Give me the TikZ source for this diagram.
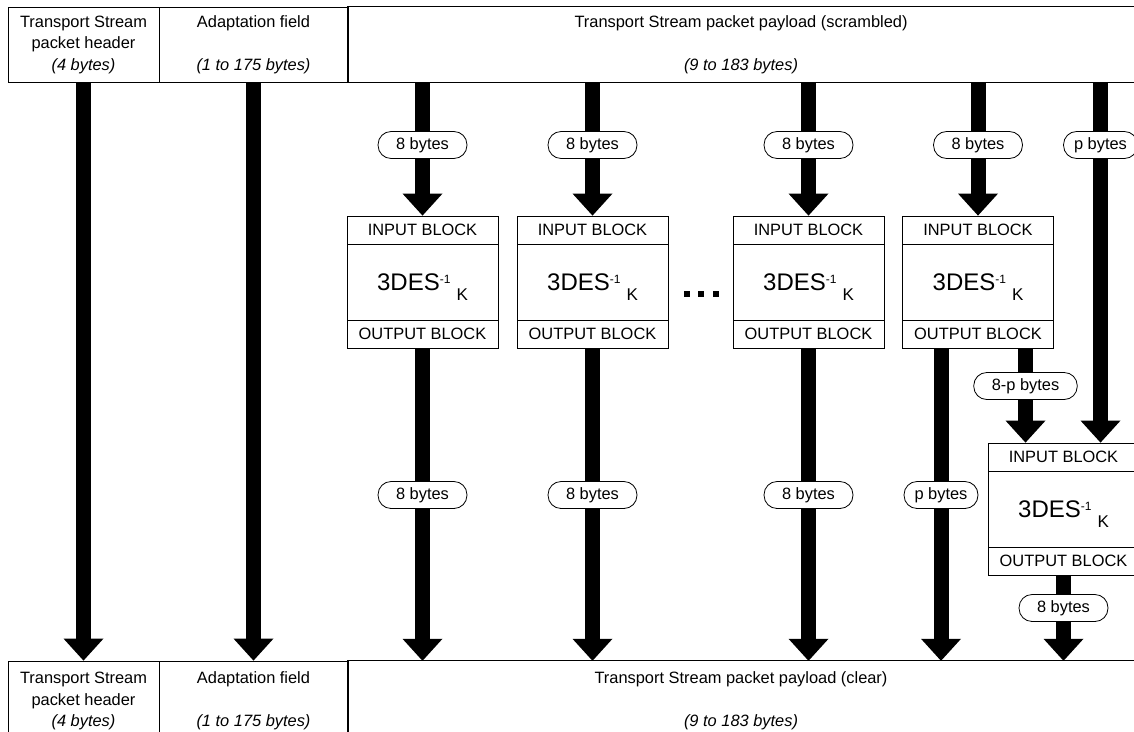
\documentclass[tikz,border=0pt]{standalone}
\usepackage{fontspec}
\setmainfont{Liberation Sans}
\usetikzlibrary{arrows.meta}
\newcommand\desname{{\fontsize{24}{24}\selectfont 3DES}\raisebox{7pt}[0pt][0pt]{\fontsize{12}{12}\selectfont -1}\hspace{6pt}\raisebox{-10pt}[0pt][0pt]{\fontsize{17}{17}\selectfont K}}
\newcommand\desbox[2]{%
  \node[desmain] (#1) at (#2) {\desname};
  \node[despart, anchor=north] (#1-in) at (#1.north) {INPUT BLOCK};
  \node[despart, anchor=south] (#1-out) at (#1.south) {OUTPUT BLOCK};
}
\tikzset{
  base/.style={font=\fontsize{16.4}{21.5}\selectfont},
  cell/.style={base, draw, line width=0.8pt, align=center, inner sep=0pt, minimum height=75pt},
  opencell/.style={base, align=center, inner sep=0pt, minimum height=75pt},
  desmain/.style={base, draw, line width=0.8pt, fill=white, inner sep=0pt, minimum width=151pt, minimum height=132pt},
  despart/.style={base, draw, line width=0.8pt, inner sep=0pt, minimum width=151pt, minimum height=28pt},
  pill/.style={base, draw, line width=0.8pt, fill=white, rounded corners=13pt, minimum height=27pt, inner xsep=18pt, inner ysep=0pt},
  pillp/.style={pill, inner xsep=10.5pt},
  shaft/.style={line width=15pt},
  arr/.style={line width=15pt, -{Triangle[width=40pt,length=22pt,line width=0pt]}},
}
\begin{document}
\begin{tikzpicture}[x=1pt,y=-1pt]
\useasboundingbox (0,0) rectangle (1134,731);
% top row
\node[cell, minimum width=151pt] (hdr1) at (83.5,44.5) {Transport Stream\\packet header\\\textit{(4 bytes)}};
\node[cell, minimum width=189pt] (hdr2) at (253.5,44.5) {Adaptation field\\\strut\\\textit{(1 to 175 bytes)}};
\node[opencell, minimum width=786pt] (hdrP) at (741,44.5) {Transport Stream packet payload (scrambled)\\\strut\\\textit{(9 to 183 bytes)}};
\draw[line width=0.8pt] (hdrP.north east) -- (hdrP.north west) -- (hdrP.south west) -- (hdrP.south east);
% bottom row
\node[cell, minimum width=151pt, minimum height=80pt] (bot1) at (83.5,701) {Transport Stream\\packet header\\\textit{(4 bytes)}};
\node[cell, minimum width=189pt, minimum height=80pt] (bot2) at (253.5,701) {Adaptation field\\\strut\\\textit{(1 to 175 bytes)}};
\node[opencell, minimum width=786pt, minimum height=80pt] (botP) at (741,701) {Transport Stream packet payload (clear)\\\strut\\\textit{(9 to 183 bytes)}};
\draw[line width=0.8pt] (botP.south west) -- (botP.north west) -- (botP.north east);
% header and adaptation field pass straight through
\draw[arr] (hdr1.south) -- (bot1.north);
\draw[arr] (hdr2.south) -- (bot2.north);
% blocks
\desbox{b1}{422.5,282}
\desbox{b2}{592.5,282}
\desbox{b3}{808.5,282}
\desbox{b4}{978,282}
\desbox{b5}{1063.5,509}
% ellipsis
\fill (684,291) rectangle (690,297);
\fill (698,291) rectangle (704,297);
\fill (713,291) rectangle (719,297);
% top labels
\node[pill] (t1) at (422.5,145) {8 bytes};
\node[pill] (t2) at (592.5,145) {8 bytes};
\node[pill] (t3) at (808.5,145) {8 bytes};
\node[pill] (t4) at (978,145) {8 bytes};
\node[pillp] (tp) at (1100.5,145) {p bytes};
% bottom labels
\node[pill] (o1) at (422.5,495) {8 bytes};
\node[pill] (o2) at (592.5,495) {8 bytes};
\node[pill] (o3) at (808.5,495) {8 bytes};
\node[pillp] (op) at (941,495) {p bytes};
\node[pill] (o8p) at (1025.5,386) {8-p bytes};
\node[pill] (o5) at (1063.5,608) {8 bytes};
% input connectors
\foreach \l/\b in {t1/b1, t2/b2, t3/b3, t4/b4}{
  \draw[shaft] (\l |- hdrP.south) -- (\l.north);
  \draw[arr] (\l.south) -- (\b-in.north);
}
\draw[shaft] (tp |- hdrP.south) -- (tp.north);
\draw[arr] (tp.south) -- (tp |- b5-in.north);
% output connectors
\foreach \b/\l in {b1/o1, b2/o2, b3/o3}{
  \draw[shaft] (\b-out.south) -- (\l.north);
  \draw[arr] (\l.south) -- (\l |- botP.north);
}
\draw[shaft] (op |- b4-out.south) -- (op.north);
\draw[arr] (op.south) -- (op |- botP.north);
\draw[shaft] (o8p |- b4-out.south) -- (o8p.north);
\draw[arr] (o8p.south) -- (o8p |- b5-in.north);
\draw[shaft] (b5-out.south) -- (o5.north);
\draw[arr] (o5.south) -- (o5 |- botP.north);
\end{tikzpicture}
\end{document}
